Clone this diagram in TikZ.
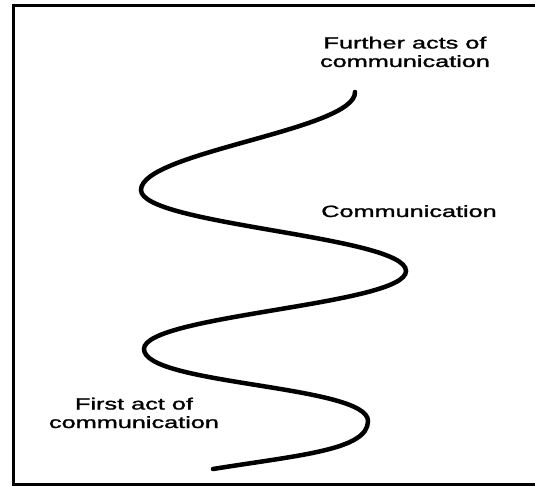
\documentclass[tikz,border=0pt]{standalone}
\usepackage{fontspec}
\setmainfont{Liberation Sans}
\newfontfamily\lblfont{Liberation Sans}[UprightFeatures={FakeBold=1.2}]
\usetikzlibrary{positioning}

\begin{document}
\begin{tikzpicture}[x=1pt, y=-1pt,
		txt/.style = {
			font=\lblfont\fontsize{16.3}{18.5}\selectfont,
			align=center, inner sep=0pt, xscale=1.55, anchor=base
		},
		wave/.style = {
			line width=4.5pt, line cap=round
		}]
		\useasboundingbox (0,0) rectangle (535,486);
		% frame, open on the right
		\draw[line width=3pt] (535,5.5) -- (13,5.5) -- (13,484.5) -- (535,484.5);

		\node (further) [txt] at (405,67) {Further acts of\\communication};
		\node (comm) [txt] at (409,217) {Communication};
		\node (first) [txt] at (134,428) {First act of\\communication};

		% turning points of the wave
		\coordinate (s) at (355,92);
		\coordinate (l1) at (141,190);
		\coordinate (r1) at (406,271);
		\coordinate (l2) at (144,349);
		\coordinate (r2) at (368,421);
		\coordinate (e) at (213,469);

		\draw[wave] (s) .. controls (356,130) and (141,152) .. (l1)
			.. controls (141,225) and (406,236) .. (r1)
			.. controls (406,305) and (144,315) .. (l2)
			.. controls (144,385) and (368,385) .. (r2)
			.. controls (368,450) and (300,455) .. (e);
	\end{tikzpicture}
\end{document}
